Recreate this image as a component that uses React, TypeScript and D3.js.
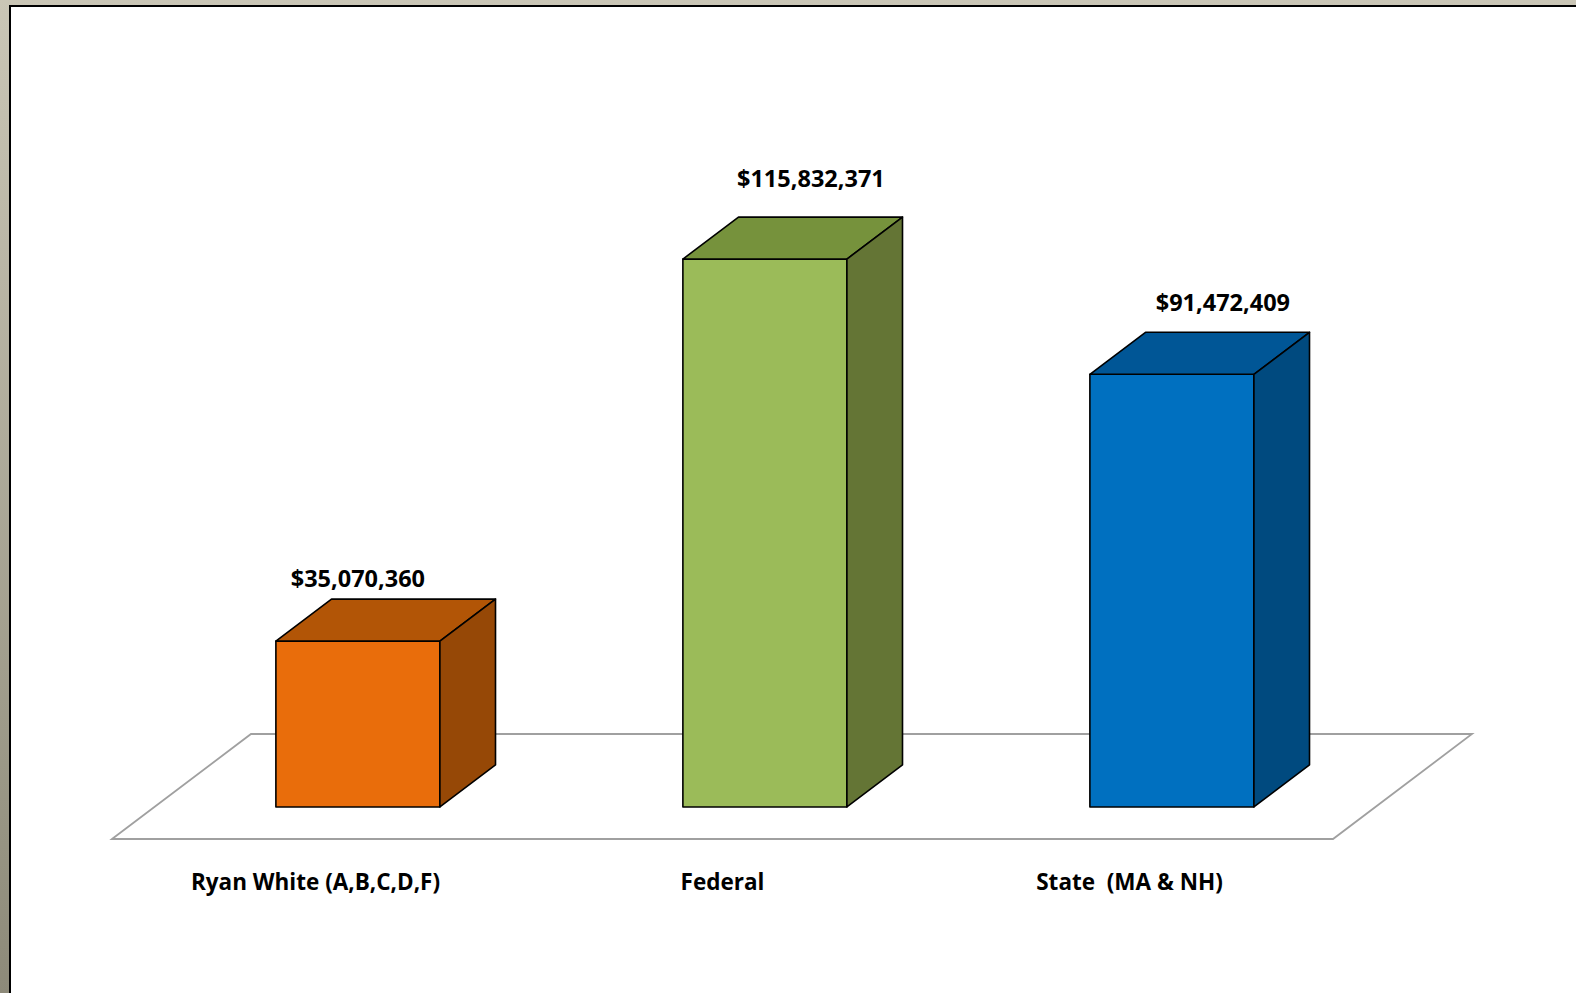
import React from 'react';
import { scaleBand, scaleLinear, format } from 'd3';

const categories = ['Ryan White (A,B,C,D,F)', 'Federal', 'State  (MA & NH)'];
const values = [35070360, 115832371, 91472409];
const frontColors = ['#E96D0B', '#9BBB59', '#0070C0'];
const topColors = ['#B25506', '#76923C', '#005696'];
const sideColors = ['#964806', '#647535', '#004A7F'];

const W = 1576, H = 993;
// floor plane: front-left corner and depth vector
const floorX = 112, floorY = 839, floorW = 1221;
const depthDx = 139, depthDy = 105;
const t0 = 0.305, t1 = 0.705; // bar depth inside the floor
// data labels were hand-placed in the original, nudge them the same way
const labelDx = [0, 46, 51];
const labelDy = [12, 30, 21];

const x = scaleBand<string>().domain(categories).range([0, floorW]).paddingInner(0.597).paddingOuter(0.2985);
const y = scaleLinear().domain([0, 120e6]).range([0, 567.6]);
const money = (v: number) => '$' + format(',')(v);

const pt = (px: number, t: number, h: number) => [floorX + px + t * depthDx, floorY - t * depthDy - h];
const poly = (ps: number[][]) => ps.map((p) => p.join(',')).join(' ');

export default function App() {
  const font = "'Open Sans', 'Liberation Sans', sans-serif";
  return (
    <svg width={W} height={H} style={{ position: 'absolute', left: 0, top: 0 }}>
      <defs>
        <linearGradient id="bg" x1="0" y1="0" x2="0" y2="1">
          <stop offset="0" stopColor="#cac6b6" />
          <stop offset="1" stopColor="#8d8a79" />
        </linearGradient>
      </defs>
      <rect width={W} height={H} fill="url(#bg)" />
      <rect x={9} y={5} width={W} height={H} fill="#000" />
      <rect x={11} y={7} width={W} height={H} fill="#fff" />

      <polygon
        points={poly([pt(0, 0, 0), pt(0, 1, 0), pt(floorW, 1, 0), pt(floorW, 0, 0)])}
        fill="none" stroke="#a0a0a0" strokeWidth={1.8} />

      {categories.map((c, i) => {
        const x0 = x(c)!, x1 = x0 + x.bandwidth();
        const h = y(values[i]);
        const front = [pt(x0, t0, 0), pt(x0, t0, h), pt(x1, t0, h), pt(x1, t0, 0)];
        const top = [pt(x0, t0, h), pt(x0, t1, h), pt(x1, t1, h), pt(x1, t0, h)];
        const side = [pt(x1, t0, 0), pt(x1, t0, h), pt(x1, t1, h), pt(x1, t1, 0)];
        const fc = pt((x0 + x1) / 2, t0, h);
        const back = pt(x0, t1, h);
        return (
          <g key={c} stroke="#000" strokeWidth={1.6} strokeLinejoin="round">
            <polygon points={poly(front)} fill={frontColors[i]} />
            <polygon points={poly(top)} fill={topColors[i]} />
            <polygon points={poly(side)} fill={sideColors[i]} />
            <text x={fc[0] + labelDx[i]} y={back[1] - labelDy[i]} textAnchor="middle" stroke="none" fill="#000"
              fontFamily={font} fontWeight="bold" fontSize={23.5}>{money(values[i])}</text>
          </g>
        );
      })}

      {categories.map((c) => (
        <text key={c} x={floorX + x(c)! + x.bandwidth() / 2} y={890} textAnchor="middle"
          fontFamily={font} fontWeight="bold" fontSize={22.5} fill="#000" style={{ whiteSpace: 'pre' }}>
          {c}
        </text>
      ))}
    </svg>
  );
}
